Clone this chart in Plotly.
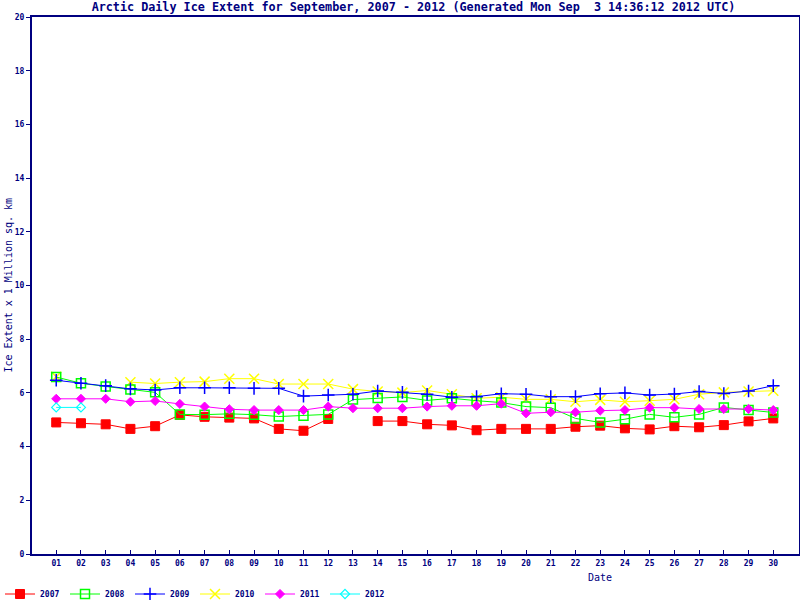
import plotly.graph_objects as go

days = list(range(1, 31))
day_labels = [f"{d:02d}" for d in days]

y2007 = [4.90, 4.87, 4.83, 4.66, 4.76, 5.18, 5.11, 5.08, 5.05, 4.66,
         4.59, 5.03, None, 4.95, 4.95, 4.83, 4.79, 4.61, 4.66, 4.66,
         4.66, 4.74, 4.78, 4.68, 4.64, 4.76, 4.72, 4.80, 4.94, 5.05]
y2008 = [6.59, 6.36, 6.24, 6.13, 6.02, 5.20, 5.19, 5.22, 5.19, 5.12,
         5.15, 5.20, 5.75, 5.81, 5.85, 5.72, 5.80, 5.71, 5.64, 5.49,
         5.45, 5.05, 4.90, 5.02, 5.20, 5.09, 5.20, 5.46, 5.36, 5.27]
y2009 = [6.47, 6.36, 6.27, 6.15, 6.11, 6.19, 6.19, 6.19, 6.17, 6.17,
         5.88, 5.92, 5.95, 6.07, 6.02, 5.95, 5.84, 5.86, 5.97, 5.95,
         5.86, 5.86, 5.97, 6.00, 5.92, 5.96, 6.05, 5.98, 6.07, 6.27]
y2010 = [6.60, None, None, 6.40, 6.35, 6.40, 6.42, 6.53, 6.53, 6.33,
         6.33, 6.33, 6.14, 6.05, 6.01, 6.09, 5.95, 5.80, 5.84, 5.76,
         5.76, 5.67, 5.74, 5.67, 5.71, 5.76, 5.95, 6.02, 6.05, 6.08]
y2011 = [5.78, 5.78, 5.78, 5.67, 5.70, 5.59, 5.49, 5.39, 5.36, 5.36,
         5.36, 5.49, 5.43, 5.43, 5.43, 5.49, 5.52, 5.52, 5.60, 5.24,
         5.28, 5.28, 5.34, 5.36, 5.45, 5.45, 5.40, 5.40, 5.40, 5.36]
y2012 = [5.46, 5.46]

NAVY = "#000080"
FONT = "DejaVu Sans Mono"

series = [
    # name, values, color, symbol, size, line width, legend rank
    ("2007", y2007, "#FF0000", "square", 9, 1, 1),
    ("2010", y2010, "#FFFF00", "x-thin", 10, 1.5, 4),
    ("2008", y2008, "#00FF00", "square-open", 9, 1.5, 2),
    ("2009", y2009, "#0000FF", "cross-thin", 9, 1.5, 3),
    ("2011", y2011, "#FF00FF", "diamond", 7, 1, 5),
    ("2012", y2012, "#00FFFF", "diamond-open", 7, 1.2, 6),
]

fig = go.Figure()
for name, vals, color, sym, size, lw, rank in series:
    fig.add_trace(go.Scatter(
        x=days[:len(vals)], y=vals, name=name, mode="lines+markers",
        line=dict(color=color, width=1),
        marker=dict(symbol=sym, size=size, color=color,
                    line=dict(color=color, width=lw)),
        connectgaps=False, legendrank=rank,
    ))

fig.update_layout(
    width=800, height=600,
    margin=dict(l=32, r=1, t=17, b=46, autoexpand=False),
    plot_bgcolor="white", paper_bgcolor="white",
    title=dict(
        text="Arctic Daily Ice Extent for September, 2007 - 2012 (Generated Mon Sep\u00a0 3 14:36:12 2012 UTC)",
        x=413.5 / 800, xanchor="center", y=1 - 7 / 600, yanchor="middle",
        font=dict(family=FONT, size=11.75, color=NAVY, weight="bold"),
        automargin=False,
    ),
    xaxis=dict(
        range=[0.02, 31.04], tickvals=days, ticktext=day_labels,
        showgrid=False, zeroline=False, showline=True, mirror=True,
        linecolor=NAVY, linewidth=2, ticks="inside", ticklen=4,
        tickcolor=NAVY, tickwidth=1, automargin=False,
        tickfont=dict(family=FONT, size=8, color=NAVY, weight="bold"),
    ),
    yaxis=dict(
        range=[0, 20], tickvals=list(range(0, 21, 2)),
        showgrid=False, zeroline=False, showline=True, mirror=True,
        linecolor=NAVY, linewidth=2, ticks="outside", ticklen=4,
        tickcolor=NAVY, tickwidth=1, automargin=False,
        tickfont=dict(family=FONT, size=8, color=NAVY, weight="bold"),
    ),
    showlegend=True,
    legend=dict(
        orientation="h", x=-32 / 767, xanchor="left",
        y=-(594 - 554) / 537, yanchor="middle",
        font=dict(family=FONT, size=8, color=NAVY, weight="bold"),
        entrywidth=20, entrywidthmode="pixels",
        bgcolor="rgba(0,0,0,0)", borderwidth=0,
        tracegroupgap=0,
    ),
    annotations=[
        dict(text="Ice Extent x 1 Million sq. km", textangle=-90,
             xref="paper", yref="paper", x=-24 / 767, y=0.5,
             xanchor="center", yanchor="middle", showarrow=False,
             font=dict(family=FONT, size=10, color=NAVY)),
        dict(text="Date", xref="paper", yref="paper",
             x=(600 - 32) / 767, y=-(577 - 554) / 537,
             xanchor="center", yanchor="middle", showarrow=False,
             font=dict(family=FONT, size=10, color=NAVY)),
    ],
)

fig.write_html(
    "out.html",
    config={"displayModeBar": False},
    post_script="document.body.style.margin='0';document.body.style.overflow='hidden';",
)
